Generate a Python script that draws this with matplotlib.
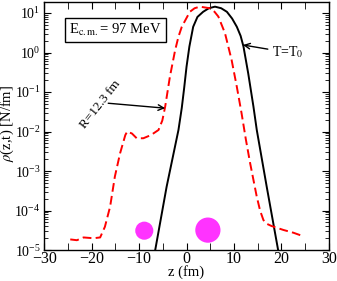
import numpy as np
import matplotlib
matplotlib.use("Agg")
import matplotlib.pyplot as plt
from matplotlib.ticker import LogLocator, MultipleLocator, NullFormatter

plt.rcParams['font.family'] = ['Liberation Serif', 'DejaVu Serif']
plt.rcParams['mathtext.fontset'] = 'stix'

# black solid curve, T = T0 (z in fm, log10 of density)
z_t0 = [-6.6, -4.2, -1.7, -1.0, -0.5, 0.0, 0.6, 1.4, 2.3, 3.5, 4.7, 6.0, 7.3, 8.5, 9.6,
        10.6, 11.4, 12.0, 13.0, 14.1, 14.8, 16.9, 19.3]
logrho_t0 = [-5.0, -3.4, -1.96, -1.4, -0.9, -0.36, 0.15, 0.65, 0.9, 1.03, 1.12, 1.16,
             1.12, 1.03, 0.86, 0.65, 0.42, 0.15, -0.53, -1.37, -1.96, -3.4, -5.0]

# red dashed curve, R = 12.3 fm
z_r = [-24.5, -23.1, -21.7, -19.6, -18.2, -17.2, -16.1, -15.1, -14.0, -12.9, -12.5, -11.5,
       -10.5, -9.1, -7.5, -5.9, -5.1, -4.5, -3.5, -2.4, -1.7, -1.0, 0.7, 1.7, 2.8, 4.9,
       5.9, 6.7, 8.1, 9.5, 10.6, 11.6, 12.5, 13.4, 14.8, 15.5, 16.2, 17.0, 17.9, 20.4,
       22.5, 24.6]
logrho_r = [-4.73, -4.75, -4.68, -4.70, -4.68, -4.41, -3.90, -3.14, -2.55, -2.09, -2.0, -2.05,
            -2.17, -2.17, -2.09, -1.96, -1.72, -1.37, -0.61, 0.06, 0.4, 0.65, 1.03, 1.12,
            1.16, 1.12, 1.03, 0.91, 0.49, -0.19, -0.87, -1.54, -2.2, -2.8, -3.65, -4.0,
            -4.24, -4.34, -4.39, -4.49, -4.56, -4.65]

# nuclei sketched as discs
blob_z = [-8.9, 4.5]
blob_rho = [3.1e-5, 3.2e-5]
blob_size = [170, 330]

fig = plt.figure(figsize=(3.37, 2.81), dpi=100)
ax = fig.add_axes([0.131, 0.110, 0.845, 0.883])

ax.plot(z_t0, 10 ** np.array(logrho_t0), color='black', lw=1.4)
ax.plot(z_r, 10 ** np.array(logrho_r), color='red', lw=1.4, ls=(0, (4.5, 2.2)))
ax.scatter(blob_z, blob_rho, s=blob_size, color='#ff33ff', edgecolors='none', zorder=3)

ax.set_yscale('log')
ax.set_xlim(-30, 30)
ax.set_ylim(1e-5, 19)
ax.xaxis.set_major_locator(MultipleLocator(10))
ax.xaxis.set_minor_locator(MultipleLocator(5))
ax.yaxis.set_major_locator(LogLocator(base=10, numticks=10))
ax.yaxis.set_minor_locator(LogLocator(base=10, subs=np.arange(2, 10), numticks=20))
ax.yaxis.set_minor_formatter(NullFormatter())
ax.tick_params(which='both', direction='in', top=True, right=True)
ax.tick_params(which='major', length=5)
ax.tick_params(which='minor', length=3)
ax.tick_params(axis='x', which='minor', length=5)
ax.tick_params(axis='x', labelsize=11.5, pad=1)
ax.tick_params(axis='y', labelsize=10, pad=2.5)

ax.set_xlabel('z (fm)', fontsize=10.5, labelpad=-1.5)
ax.set_ylabel(r'$\rho$(z,t) [N/fm]', fontsize=10.5)
ax.yaxis.set_label_coords(-0.098, 0.51)

ax.text(-15.0, 3.7, r'E$_{\rm c.m.}$= 97 MeV', fontsize=10.5, ha='center', va='center',
        bbox=dict(boxstyle='square,pad=0.3', fc='white', ec='black', lw=1))

ax.text(-18.2, 0.05, 'R=12.3 fm', fontsize=9.5, rotation=52,
        ha='center', va='center', rotation_mode='anchor')
ax.annotate('', xy=(-4.5, 0.039), xytext=(-16.5, 0.052),
            arrowprops=dict(arrowstyle='->', color='black', lw=1, shrinkA=0, shrinkB=0))
ax.annotate(r'T=T$_0$', xy=(11.9, 1.55), xytext=(18.0, 1.0), fontsize=10,
            ha='left', va='center',
            arrowprops=dict(arrowstyle='->', color='black', lw=1, shrinkA=1, shrinkB=0))

for s in ax.spines.values():
    s.set_linewidth(1)

fig.savefig('out.png', dpi=100)
